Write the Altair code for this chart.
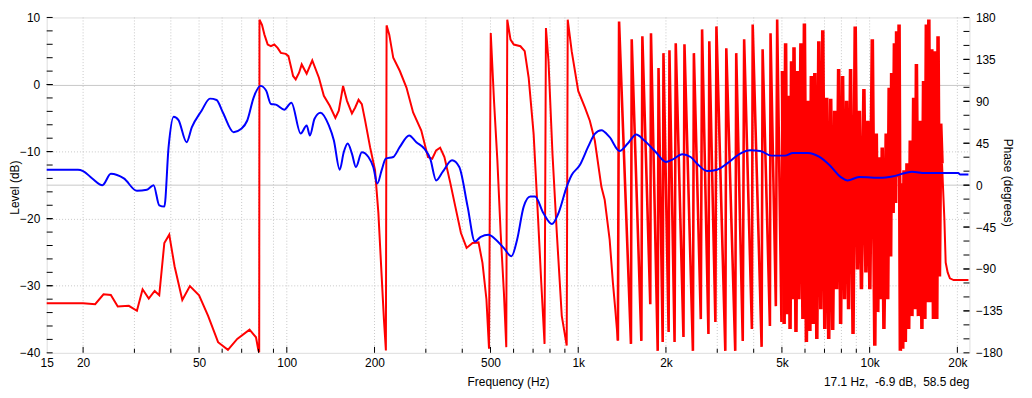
import altair as alt
import pandas as pd

# ---------------- data ----------------
# Level (blue), dB
mag_freq = [15, 19.2, 20, 21.5, 23.3, 24.9, 27.6, 30.6, 33.1, 34.9,
            36.5, 38.0, 39.3, 40.9, 42.5, 45.3, 47.2, 51.0, 54.5, 57.4,
            60.4, 65.7, 69.8, 73.1, 77.0, 81.2, 84.9, 88.2, 91.7, 98.0,
            103.7, 111.6, 117.0, 120.0, 124.5, 130.5, 139.4, 145.0, 151.9, 156.8,
            161.8, 167.3, 172.6, 180.9, 190.6, 198.0, 204.6, 211.5, 218.6, 231.9,
            244.3, 262.9, 278.3, 297.0, 310.6, 325.5, 343.0, 368.9, 390.7, 417.3,
            441.9, 463.1, 491.8, 520.8, 555.8, 590.2, 617.2, 650.0, 685.0, 711.0,
            760.0, 812.0, 855.0, 913.0, 949.7, 1013, 1081, 1140, 1201, 1282,
            1386, 1479, 1580, 1686, 1848, 2000, 2104, 2276, 2431, 2559,
            2768, 2994, 3237, 3596, 3889, 4206, 4606, 5115, 5458, 6140,
            6728, 7277, 7968, 8398, 9203, 11045, 11946, 13259, 13974, 15504,
            20142, 20400, 21830]
mag_db = [-12.7, -12.7, -12.9, -14.0, -15.0, -13.3, -14.0, -15.85, -15.7, -15.0,
          -18.0, -18.2, -9.3, -4.8, -5.3, -8.6, -6.4, -3.9, -2.1, -2.3,
          -4.2, -7.1, -6.6, -5.4, -1.9, -0.2, -0.9, -2.9, -3.0, -3.75,
          -2.7, -7.3, -6.1, -7.6, -5.1, -4.2, -6.1, -8.3, -12.7, -10.1,
          -8.8, -10.3, -12.3, -10.1, -10.8, -12.3, -14.75, -12.8, -11.05, -10.8,
          -9.3, -7.6, -8.6, -9.6, -11.05, -14.3, -13.0, -11.3, -12.3, -18.2,
          -23.4, -22.7, -22.4, -23.1, -24.4, -25.6, -23.1, -18.2, -16.7, -16.7,
          -19.2, -20.8, -19.2, -15.25, -13.5, -12.0, -9.3, -7.35, -6.8, -7.85,
          -9.9, -8.8, -7.45, -8.35, -10.1, -11.55, -11.2, -10.4, -10.8, -11.8,
          -12.9, -12.7, -11.8, -10.3, -9.8, -9.9, -10.6, -10.6, -10.2, -10.2,
          -10.8, -12.0, -13.8, -14.3, -13.8, -13.9, -13.7, -13.2, -13.0, -13.2,
          -13.2, -13.4, -13.4]

# Phase (red), degrees (wrapped)
ph_freq = [15, 20, 22.0, 23.5, 24.9, 26.3, 28.7, 30.6, 32.0, 33.6, 35.2, 36.5, 38.0,
           39.5, 41.2, 43.8, 46.5, 50.0, 53.7, 58.1, 62.8, 67.6, 74.5, 78.4, 79.9, 80.4,
           80.6, 82.2, 83.8, 86.0, 88.2, 90.6, 93.0, 95.4, 99.2, 101.3,
           103.2, 105.1, 107.3, 110.2, 112.5, 117.0, 122.3, 128.9, 134.0, 140.4,
           146.8, 150.8, 156.0, 160.9, 167.3, 171.7, 176.3, 180.9, 185.7, 193.1,
           200.8, 206.2, 211.6, 215.4, 218.8,
           220.0, 224.7, 231.9, 244.3, 257.4, 271.3, 289.4, 305.0, 315.5, 325.5,
           335.9, 347.4, 363.3, 378.7, 395.9, 414.0, 434.0, 454.9, 469.3, 484.2, 494.2,
           501.0, 514.1, 527.9, 541.8, 555.8, 566.4,
           570.9, 585.8, 601.1, 633.5, 655.2, 676.0, 703.0, 727.6, 746.8, 766.4,
           774.9, 790.7, 815.9, 844.4, 878.1, 913.1,
           920.4, 949.7, 1000, 1054, 1096, 1140, 1201, 1233, 1282, 1315, 1340, 1368,
           1381, 1517, 1526, 1647, 1660, 1767, 1777, 1874, 1886, 1949,
           1961, 2043, 2056, 2141, 2161, 2297, 2315, 2475, 2494, 2634,
           2661, 2798, 2817, 2956, 2980, 3197, 3222, 3458, 3485, 3669,
           3710, 3944, 3969, 4259, 4293, 4548, 4570, 4766, 4816, 4981, 5020,
           5088, 5148, 5209, 5270, 5332, 5395, 5458, 5501, 5587, 5653,
           5720, 5810, 5902, 5972, 6067, 6139, 6236, 6310, 6409, 6485,
           6588, 6692, 6798, 6905, 7015, 7125, 7238, 7352, 7469, 7585,
           7705, 7827, 7951, 8076, 8204, 8333, 8467, 8600, 8770, 8922,
           9083, 9226, 9372, 9557, 9708, 9861, 10016, 10214, 10416, 10539,
           10663, 10789, 10917, 11046, 11194, 11398, 11533, 11668, 11806, 11899,
           12040, 12162, 12277, 12374, 12520, 12618, 12746, 12867, 12989, 13121,
           13255, 13432, 13613, 13786, 13969, 14157, 14337, 14470, 14700, 14911,
           15112, 15311, 15471, 15653, 15838, 15963, 16151, 16342, 16558, 16769,
           16995, 17168, 17358, 17535, 17714, 18052, 18236, 18524, 18854, 19409,
           21830]
ph_deg = [-126.7, -126.7, -127.8, -117.2, -117.9, -130.2, -129.6, -134.9, -111.8, -121.7, -113.6, -118.2, -62.1,
          -53.2, -87.0, -123.2, -108.3, -118.2, -140.3, -168.6, -176.8, -165.1, -155.2, -163.3, -177.5, -179.5,
          177.5, 172.2, 161.6, 150.9, 149.1, 150.9, 147.3, 142.0, 140.9, 138.5,
          127.8, 117.2, 113.6, 120.7, 129.6, 119.6, 133.9, 115.3, 95.9, 85.2,
          72.1, 79.9, 106.5, 90.5, 77.0, 83.4, 91.6, 87.0, 69.2, 40.8,
          16.0, -30.1, -97.7, -143.8, -177.5,
          171.5, 161.6, 136.7, 122.5, 104.7, 78.1, 58.6, 30.1, 28.4, 37.3,
          40.2, 30.1, 3.5, -23.1, -51.4, -67.4, -62.1, -61.5, -83.4, -122.5, -175.7,
          163.3, 90.5, 26.6, -51.4, -115.0, -173.9,
          177.6, 156.2, 150.9, 149.1, 143.8, 115.3, 55.1, -33.8, -104.7, -170.4,
          168.6, 133.1, 33.8, -51.4, -140.3, -172.2,
          177.6, 143.8, 101.2, 83.4, 69.2, 47.9, -1.8, -16.0, -58.6, -104.4, -133.1, -166.9,
          175.7, -170.4, 156.6, -167.2, 159.8, -127.8, 163.0, -177.9, 125.7, -168.3,
          141.7, -157.6, 144.9, -168.3, 152.3, -163.0, 151.2, -177.9, 141.7, -143.8,
          167.2, -159.8, 154.4, -147.0, 170.4, -177.9, 147.0, -177.9, 141.7, -167.2,
          156.6, -154.4, 172.5, -173.6, 145.9, -151.2, 163.0, -129.9, 177.9, -147.0, 122.5,
          -149.1, 152.3, -138.5, 95.9, -154.4, 133.1, -122.5, 148.0, -157.6, 122.5,
          -122.5, 152.3, -143.8, 173.6, -168.3, 90.5, -156.6, 117.2, -149.1, 120.4,
          -165.1, 154.4, -133.1, 166.2, -154.4, 93.7, -165.1, 92.7, -155.5, 79.9,
          -111.8, 124.6, -149.1, 117.2, -122.5, 90.5, -133.1, 124.6, -159.8, 170.4,
          -90.5, 79.9, -111.8, 103.3, -93.7, 69.2, -111.8, 156.6, -172.5, 55.4,
          -136.3, 29.8, -122.5, 40.5, -154.4, 55.4, -122.5, 104.4, -76.7, 120.4,
          -29.8, 152.3, -19.2, 165.1, 8.5, 172.5, -177.9, 2.1, -175.7, 16.0,
          -168.3, 23.4, -154.4, 47.9, -140.6, 93.7, -133.1, 129.9, -140.6, 69.2,
          -154.4, 111.8, -143.8, 172.5, -125.7, 177.9, -125.7, 145.9, -143.8, 143.8,
          -143.8, 159.8, -98.0, 66.0, 23.4, -37.3, -83.1, -93.7, -100.1, -101.9,
          -101.9]

# axis text / tick positions
x_label_values = [15, 20, 50, 100, 200, 500, 1000, 2000, 5000, 10000, 20000]
x_major_ticks = [20, 50, 100, 200, 500, 1000, 2000, 5000, 10000, 20000]
x_minor_ticks = [30, 40, 60, 70, 80, 90, 300, 400, 600, 700, 800, 900,
                 3000, 4000, 6000, 7000, 8000, 9000]
x_grid_values = [20, 30, 40, 50, 60, 70, 80, 90, 100, 200, 300, 400, 500, 600, 700,
                 800, 900, 1000, 2000, 3000, 4000, 5000, 6000, 7000, 8000, 9000,
                 10000, 20000]
db_label_values = [-40, -30, -20, -10, 0, 10]
db_tick_values = [-38, -36, -34, -32, -30, -28, -26, -24, -22, -20, -18, -16, -14, -12,
                  -10, -8, -6, -4, -2, 0, 2, 4, 6, 8]
phase_label_values = [-180, -135, -90, -45, 0, 45, 90, 135, 180]
phase_tick_values = [-165, -150, -135, -120, -105, -90, -75, -60, -45, -30, -15, 0,
                     15, 30, 45, 60, 75, 90, 105, 120, 135, 150, 165]
phase_zero = [0]
status_text = ["17.1 Hz,\u00a0 -6.9 dB,\u00a0 58.5 deg"]

# ---------------- styling (not data) ----------------
W, H = 930, 338
FONT = "Segoe UI, Liberation Sans, Arial, sans-serif"
GRID = "#c8c8c8"
# stroke width of the phase trace per frequency band: (from, to, width)
RED_BANDS = [(0, 1368, 2.0), (1368, 5020, 2.6), (5020, 17714, 3.6), (17714, 1e9, 2.0)]

rows = []
for b, (lo, hi, w) in enumerate(RED_BANDS):
    for i, (f, d) in enumerate(zip(ph_freq, ph_deg)):
        if lo <= f <= hi:
            rows.append({"f": f, "deg": d, "i": i, "seg": b, "w": w})
ph_df = pd.DataFrame(rows)
mag_df = pd.DataFrame({"f": mag_freq, "db": mag_db, "i": list(range(len(mag_freq)))})

xscale = alt.Scale(type="log", domain=[15, 22000], nice=False)
dbscale = alt.Scale(domain=[-40, 10], nice=False, zero=False)
phscale = alt.Scale(domain=[-180, 180], nice=False, zero=False)

x_axis = alt.Axis(
    values=x_label_values,
    labelExpr="datum.value >= 1000 ? format(datum.value / 1000, 'd') + 'k' : format(datum.value, 'd')",
    title="Frequency (Hz)", ticks=False, domain=False, grid=False,
    labelFlush=False, labelOverlap=False, labelPadding=5,
    labelFont=FONT, labelFontSize=12, labelColor="black",
    titleFont=FONT, titleFontSize=12, titleFontWeight="normal", titleColor="black",
    titleX=465, titleY=29, titleAlign="center", titleBaseline="middle",
)
ph_axis = alt.Axis(
    orient="right", values=phase_label_values, title="Phase (degrees)",
    ticks=False, domain=False, grid=False, labelPadding=6, labelOverlap=False,
    labelFont=FONT, labelFontSize=12, labelColor="black",
    titleFont=FONT, titleFontSize=12, titleFontWeight="normal", titleColor="black",
    titleAngle=90, titleX=38, titleY=166, titleAlign="center", titleBaseline="middle",
)
db_axis = alt.Axis(
    orient="left", values=db_label_values, title="Level (dB)",
    ticks=False, domain=False, grid=True, gridColor=GRID, gridWidth=1,
    gridDash={"condition": {"test": "datum.value === 0", "value": []}, "value": [1, 2]},
    gridOpacity={"condition": {"test": "datum.value === 10 || datum.value === -40", "value": 0}, "value": 1},
    labelPadding=7, labelOverlap=False,
    labelFont=FONT, labelFontSize=12, labelColor="black",
    titleFont=FONT, titleFontSize=12, titleFontWeight="normal", titleColor="black",
    titleAngle=270, titleX=-32, titleY=171, titleAlign="center", titleBaseline="middle",
)

X = alt.X("f:Q", scale=xscale, axis=x_axis)
Y_PH = lambda: alt.Y("deg:Q", scale=phscale, axis=ph_axis)
Y_DB = lambda: alt.Y("db:Q", scale=dbscale, axis=db_axis)

vgrid = alt.Chart(pd.DataFrame({"f": x_grid_values})).mark_rule(
    color=GRID, strokeDash=[1, 2], strokeWidth=1
).encode(x=X)

pzero = alt.Chart(pd.DataFrame({"deg": phase_zero})).mark_rule(
    color=GRID, strokeWidth=1
).encode(y=Y_PH())

red = alt.Chart(ph_df).mark_line(color="#ff0000").encode(
    x=X, y=Y_PH(), order="i:Q", detail="seg:N",
    strokeWidth=alt.StrokeWidth("w:Q", scale=None, legend=None),
)
blue = alt.Chart(mag_df).mark_line(color="#0000ff", strokeWidth=2, interpolate="monotone").encode(
    x=X, y=Y_DB(), order="i:Q",
)

right_ticks = alt.Chart(pd.DataFrame({"deg": phase_tick_values + phase_label_values})).mark_rule(
    color="black").encode(y=Y_PH(), x=alt.value(W - 6), x2=alt.value(W))
left_ticks = alt.Chart(pd.DataFrame({"db": db_tick_values + db_label_values})).mark_rule(
    color="black").encode(y=Y_DB(), x=alt.value(0), x2=alt.value(6))
bottom_major = alt.Chart(pd.DataFrame({"f": x_major_ticks})).mark_rule(color="black").encode(
    x=X, y=alt.value(H - 6), y2=alt.value(H))
bottom_minor = alt.Chart(pd.DataFrame({"f": x_minor_ticks})).mark_rule(color="black").encode(
    x=X, y=alt.value(H - 4), y2=alt.value(H))

status = alt.Chart(pd.DataFrame({"t": status_text})).mark_text(
    align="right", baseline="middle", font=FONT, fontSize=12, color="black"
).encode(text="t:N", x=alt.value(W), y=alt.value(H + 29))

phase_group = alt.layer(vgrid, pzero, red, right_ticks, bottom_major, bottom_minor)
db_group = alt.layer(blue, left_ticks, status)

chart = alt.layer(phase_group, db_group).resolve_scale(y="independent").properties(
    width=W, height=H,
    autosize=alt.AutoSizeParams(type="none"),
    padding={"left": 39, "top": 8, "right": 55, "bottom": 44},
).configure_view(stroke="black", strokeWidth=1).configure(background="white")

chart.save("out.html", embed_options={"renderer": "svg", "actions": False})
